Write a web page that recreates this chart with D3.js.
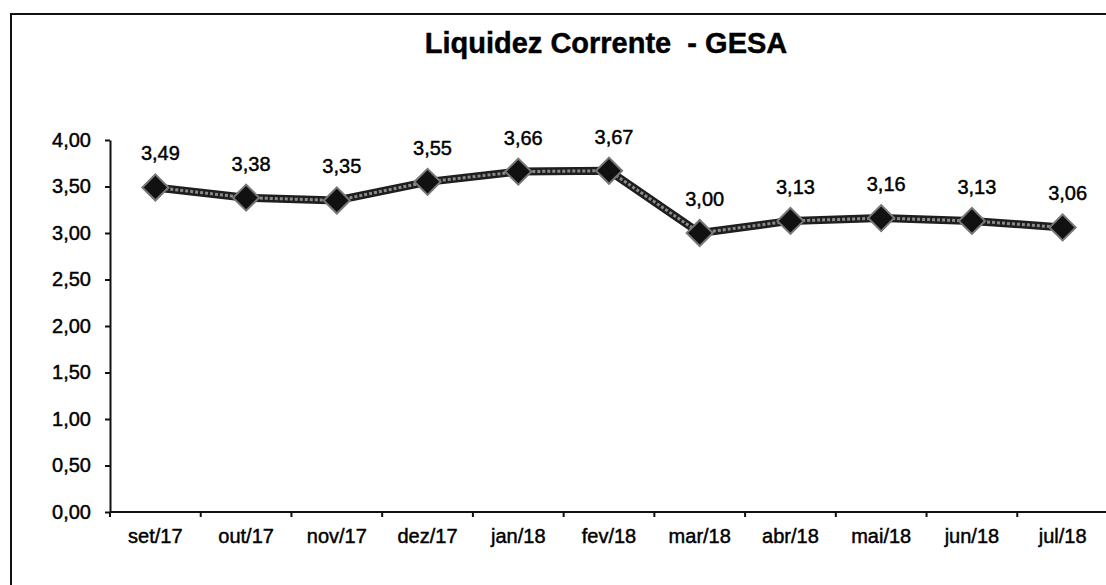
<!DOCTYPE html>
<html>
<head>
<meta charset="utf-8">
<script src="https://cdn.jsdelivr.net/npm/d3@7"></script>
<style>
  body { margin: 0; background: #fff; }
  svg { display: block; font-family: "Liberation Sans", Arial, sans-serif; }
  text { stroke: #000; stroke-width: 0.45px; }
</style>
</head>
<body>
<svg id="svg" width="1106" height="585"></svg>
<script>
// chart data
const months = ['set/17', 'out/17', 'nov/17', 'dez/17', 'jan/18', 'fev/18', 'mar/18', 'abr/18', 'mai/18', 'jun/18', 'jul/18'];
const liquidez = [3.49, 3.38, 3.35, 3.55, 3.66, 3.67, 3.00, 3.13, 3.16, 3.13, 3.06];
const yTicks = [0, 0.5, 1, 1.5, 2, 2.5, 3, 3.5, 4];
const titleText = 'Liquidez Corrente  - GESA';

const svg = d3.select('#svg');
const pt = d3.formatLocale({decimal: ',', thousands: '.', grouping: [3], currency: ['R$', '']});
const fmt = pt.format('.2f');

const plotLeft = 110, plotRight = 1108, plotTop = 140, plotBottom = 512;

const x = d3.scaleBand().domain(months).range([plotLeft, plotRight]);
const y = d3.scaleLinear().domain([0, 4]).range([plotBottom, plotTop]);
const cx = m => x(m) + x.bandwidth() / 2;

// outer frame
svg.append('rect')
  .attr('x', 11).attr('y', 14)
  .attr('width', 1120).attr('height', 600)
  .attr('fill', 'none').attr('stroke', '#111').attr('stroke-width', 2);

// title
svg.append('text')
  .attr('x', 606).attr('y', 53)
  .attr('text-anchor', 'middle')
  .style('white-space', 'pre')
  .attr('font-size', 29).attr('font-weight', 'bold')
  .text(titleText);

// y axis
const yAxis = svg.append('g')
  .attr('transform', `translate(${plotLeft},0)`)
  .call(d3.axisLeft(y).tickValues(yTicks).tickFormat(fmt).tickSize(5).tickSizeOuter(0).tickPadding(14));
yAxis.select('.domain').attr('stroke', '#111').attr('stroke-width', 2);
yAxis.selectAll('.tick line').attr('stroke', '#111').attr('stroke-width', 2);
yAxis.selectAll('.tick text').attr('font-size', 20).attr('fill', '#000')
  .attr('font-family', '"Liberation Sans", Arial, sans-serif');

// x axis, ticks between categories
const xAxis = svg.append('g')
  .attr('transform', `translate(0,${plotBottom})`);
xAxis.append('line')
  .attr('x1', plotLeft).attr('x2', plotRight)
  .attr('stroke', '#111').attr('stroke-width', 2);
xAxis.selectAll('.xt').data(months).enter()
  .append('line')
  .attr('class', 'xt')
  .attr('x1', d => x(d)).attr('x2', d => x(d))
  .attr('y1', 0).attr('y2', 5)
  .attr('stroke', '#111').attr('stroke-width', 2);
xAxis.selectAll('.xl').data(months).enter()
  .append('text')
  .attr('class', 'xl')
  .attr('x', d => cx(d))
  .attr('y', 31)
  .attr('text-anchor', 'middle')
  .attr('font-size', 20)
  .text(d => d);

// series line
const pts = months.map((m, i) => ({m: m, v: liquidez[i]}));
const line = d3.line().x(d => cx(d.m)).y(d => y(d.v));

svg.append('path').datum(pts)
  .attr('d', line)
  .attr('fill', 'none').attr('stroke', '#1e1e1e').attr('stroke-width', 8)
  .attr('stroke-linejoin', 'round');
svg.append('path').datum(pts)
  .attr('d', line)
  .attr('fill', 'none').attr('stroke', '#8a8a8a').attr('stroke-width', 3)
  .attr('stroke-dasharray', '3 2');

// diamond markers
svg.selectAll('.mk').data(pts).enter()
  .append('path')
  .attr('class', 'mk')
  .attr('transform', d => `translate(${cx(d.m)},${y(d.v)}) rotate(45)`)
  .attr('d', d3.symbol().type(d3.symbolSquare).size(340))
  .attr('fill', '#111').attr('stroke', '#777').attr('stroke-width', 2);

// data labels
svg.selectAll('.lbl').data(pts).enter()
  .append('text')
  .attr('class', 'lbl')
  .attr('x', d => cx(d.m) + 5)
  .attr('y', d => y(d.v) - 27)
  .attr('text-anchor', 'middle')
  .attr('font-size', 20)
  .text(d => fmt(d.v));
</script>
</body>
</html>
